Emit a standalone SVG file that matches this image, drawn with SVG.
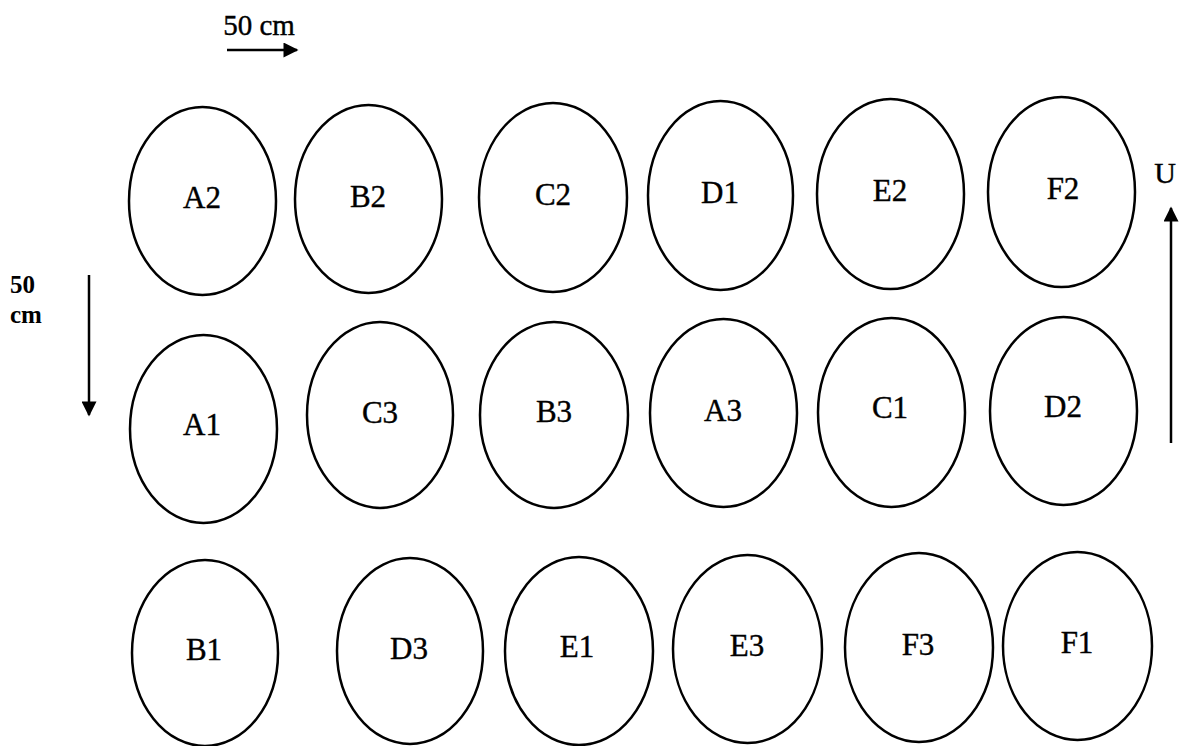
<svg xmlns="http://www.w3.org/2000/svg" width="1186" height="746" viewBox="0 0 1186 746">
<style>
  .plot ellipse { fill: none; stroke: #000; stroke-width: 2.5; }
  .plot text { font-family: "Liberation Serif", "Times New Roman", serif; font-size: 31px; text-anchor: middle; fill: #000; stroke: #000; stroke-width: 0.4; }
  .lbl { font-family: "Liberation Serif", "Times New Roman", serif; fill: #000; }
  .conn line { stroke: #000; stroke-width: 2.5; }
</style>
<defs>
  <marker id="ah" viewBox="0 0 10 10" refX="9" refY="5" markerWidth="7" markerHeight="6" markerUnits="strokeWidth" orient="auto">
    <path d="M0,0 L10,5 L0,10 z" fill="#000"/>
  </marker>
</defs>
<rect width="1186" height="746" fill="#fff"/>

<text class="lbl" x="259" y="35" font-size="29" text-anchor="middle" stroke="#000" stroke-width="0.4">50 cm</text>
<text class="lbl" x="10" y="293" font-size="25" font-weight="bold">50</text>
<text class="lbl" x="10" y="323" font-size="25" font-weight="bold">cm</text>
<text class="lbl" x="1165" y="183" font-size="30" text-anchor="middle" stroke="#000" stroke-width="0.4">U</text>

<g id="connectors" class="conn">
  <line x1="227" y1="50" x2="297" y2="50" marker-end="url(#ah)"/>
  <line x1="89" y1="275" x2="89" y2="415" marker-end="url(#ah)"/>
  <line x1="1171" y1="443" x2="1171" y2="208" marker-end="url(#ah)"/>
</g>

<g class="plot">
  <g id="A2"><ellipse cx="202.5" cy="201" rx="73.5" ry="94"/><text x="202" y="208">A2</text></g>
  <g id="B2"><ellipse cx="368.5" cy="199" rx="73.5" ry="94"/><text x="368" y="207">B2</text></g>
  <g id="C2"><ellipse cx="553" cy="197.5" rx="74" ry="94.5"/><text x="553" y="205">C2</text></g>
  <g id="D1"><ellipse cx="720.5" cy="195.5" rx="72.5" ry="94.5"/><text x="720" y="203">D1</text></g>
  <g id="E2"><ellipse cx="890.5" cy="194" rx="73.5" ry="95"/><text x="890" y="201">E2</text></g>
  <g id="F2"><ellipse cx="1061.5" cy="192" rx="73.5" ry="95"/><text x="1063" y="199">F2</text></g>

  <g id="A1"><ellipse cx="203.5" cy="429" rx="73.5" ry="94"/><text x="202" y="435">A1</text></g>
  <g id="C3"><ellipse cx="380" cy="415" rx="73" ry="93"/><text x="380" y="423">C3</text></g>
  <g id="B3"><ellipse cx="554" cy="415" rx="74" ry="93"/><text x="554" y="422">B3</text></g>
  <g id="A3"><ellipse cx="723.5" cy="413" rx="73.5" ry="94"/><text x="723" y="421">A3</text></g>
  <g id="C1"><ellipse cx="891.5" cy="412.5" rx="73.5" ry="94.5"/><text x="890" y="418">C1</text></g>
  <g id="D2"><ellipse cx="1063.5" cy="411" rx="73.5" ry="94"/><text x="1063" y="417">D2</text></g>

  <g id="B1"><ellipse cx="205" cy="653" rx="73" ry="93"/><text x="204" y="660">B1</text></g>
  <g id="D3"><ellipse cx="410" cy="651" rx="73" ry="93"/><text x="409" y="659">D3</text></g>
  <g id="E1"><ellipse cx="579" cy="651" rx="74" ry="94"/><text x="577" y="657">E1</text></g>
  <g id="E3"><ellipse cx="747.5" cy="649" rx="74.5" ry="94"/><text x="747" y="656">E3</text></g>
  <g id="F3"><ellipse cx="919" cy="647.5" rx="74" ry="94.5"/><text x="918" y="655">F3</text></g>
  <g id="F1"><ellipse cx="1077.5" cy="646" rx="74.5" ry="94"/><text x="1077" y="653">F1</text></g>
</g>
</svg>
